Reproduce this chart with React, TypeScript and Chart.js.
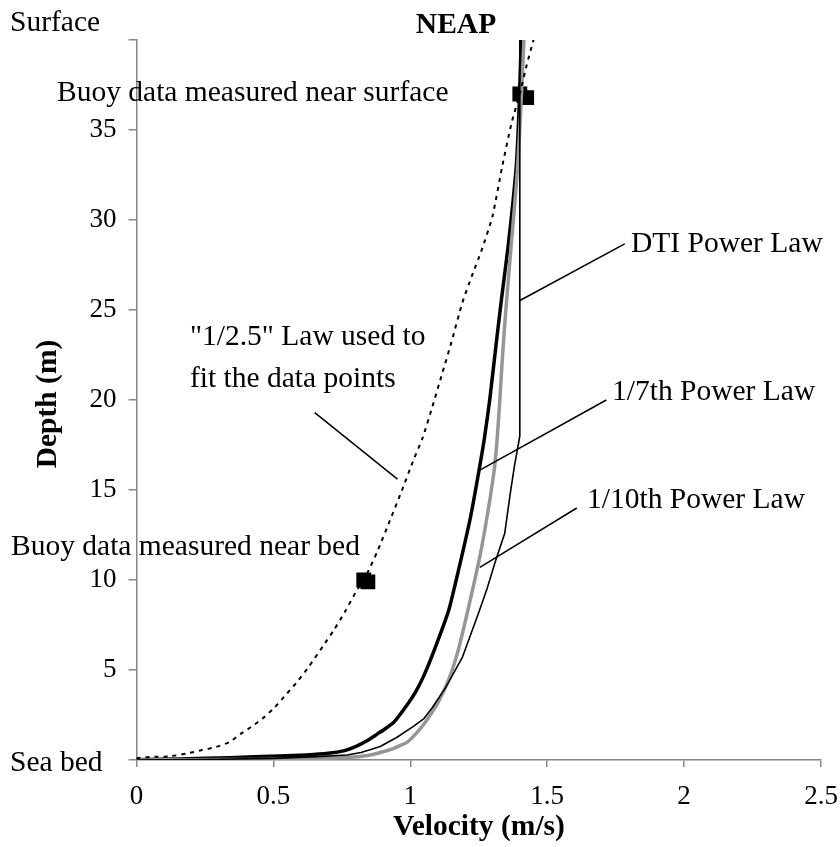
import React, { useEffect, useRef } from 'react';
import { Chart, registerables } from 'chart.js';

Chart.register(...registerables);

// ---- Data (velocity in m/s, depth above sea bed in m) ----
const X_MIN = 0;
const X_MAX = 2.5;
const X_STEP = 0.5;
const Y_MIN = 0;
const Y_MAX = 40;
const Y_STEP = 5;
const Y_HIDDEN_TICKS = [0, 40];

// "1/2.5" law fitted to buoy data (dotted)
const fitVel = [0, 0.05, 0.12, 0.18, 0.24, 0.29, 0.34, 0.38, 0.42, 0.46, 0.5, 0.55, 0.59, 0.63, 0.68, 0.72, 0.76, 0.8, 0.84, 0.88, 0.92, 0.97, 1.01, 1.045, 1.08, 1.117, 1.15, 1.19, 1.225, 1.26, 1.3, 1.336, 1.37, 1.4, 1.425, 1.45];
const fitDepth = [0.1, 0.17, 0.2, 0.35, 0.55, 0.72, 1.0, 1.45, 1.85, 2.3, 2.85, 3.7, 4.4, 5.2, 6.3, 7.2, 8.2, 9.3, 10.3, 11.6, 13.1, 15.0, 16.6, 17.9, 19.6, 21.5, 23.2, 25.4, 26.9, 28.3, 30.2, 33.0, 35.4, 37.0, 38.6, 40.0];

// 1/7th power law (thick black)
const seventhVel = [0, 0.16, 0.34, 0.52, 0.62, 0.7, 0.76, 0.8, 0.84, 0.88, 0.91, 0.94, 0.99, 1.02, 1.05, 1.09, 1.14, 1.18, 1.22, 1.25, 1.27, 1.29, 1.315, 1.333, 1.357, 1.375, 1.388, 1.398, 1.405];
const seventhDepth = [0.02, 0.06, 0.13, 0.22, 0.28, 0.37, 0.52, 0.74, 1.05, 1.45, 1.75, 2.1, 3.1, 3.8, 4.7, 6.2, 8.3, 10.8, 13.5, 16.0, 17.8, 20.0, 23.3, 25.6, 28.5, 31.0, 33.2, 36.5, 40];

// 1/10th power law (grey)
const tenthVel = [0, 0.2, 0.4, 0.6, 0.71, 0.78, 0.83, 0.87, 0.9, 0.94, 0.97, 0.99, 1.02, 1.05, 1.075, 1.1, 1.14, 1.175, 1.21, 1.25, 1.27, 1.29, 1.308, 1.318, 1.327, 1.337, 1.35, 1.368, 1.39, 1.403, 1.415];
const tenthDepth = [0, 0.02, 0.03, 0.06, 0.1, 0.15, 0.22, 0.33, 0.46, 0.65, 0.85, 1.0, 1.45, 2.0, 2.55, 3.15, 4.45, 6.1, 8.3, 11.0, 12.6, 14.4, 16.3, 18, 20, 22.5, 25.2, 28.5, 32.5, 36, 40];

// DTI power law (thin black)
const dtiVel = [0, 0.3, 0.5, 0.66, 0.77, 0.82, 0.85, 0.89, 0.95, 1.01, 1.05, 1.08, 1.13, 1.19, 1.25, 1.28, 1.31, 1.345, 1.365, 1.38, 1.4, 1.4];
const dtiDepth = [0, 0.04, 0.09, 0.19, 0.28, 0.42, 0.55, 0.75, 1.25, 1.85, 2.3, 2.9, 4.05, 5.7, 8.2, 9.5, 11.0, 12.6, 14.8, 16.3, 18.0, 40];

// Buoy measurements
const buoyVel = [0.83, 0.845, 1.4, 1.425];
const buoyDepth = [10.0, 9.9, 37.0, 36.8];

// Leader lines for the annotations: [v1, d1, v2, d2] in data units
const leaderDTI = [1.783, 28.67, 1.397, 25.5];
const leaderSeventh = [1.716, 20.0, 1.254, 16.1];
const leaderTenth = [1.608, 14.0, 1.254, 10.7];
const leaderFit = [0.651, 19.3, 0.953, 15.6];

// Text
const TITLE = 'NEAP';
const X_TITLE = 'Velocity (m/s)';
const Y_TITLE = 'Depth (m)';

const toPoints = (xs: number[], ys: number[]) => xs.map((x, i) => ({ x, y: ys[i] }));

const SERIF = '"Liberation Serif", "Times New Roman", serif';
const AXIS_COLOR = '#868686';

type Note = { text: string; x: number; y: number; bold?: boolean; align?: CanvasTextAlign };
const NOTES: Note[] = [
  { text: 'Surface', x: 10, y: 31 },
  { text: 'Sea bed', x: 10, y: 771 },
  { text: TITLE, x: 456, y: 33, bold: true, align: 'center' },
  { text: 'Buoy data measured near surface', x: 57, y: 101 },
  { text: 'Buoy data measured near bed', x: 11, y: 555 },
  { text: '"1/2.5" Law used to', x: 190, y: 345 },
  { text: 'fit the data points', x: 190, y: 387 },
  { text: 'DTI Power Law', x: 631, y: 252 },
  { text: '1/7th Power Law', x: 612, y: 400 },
  { text: '1/10th Power Law', x: 587, y: 508 },
  { text: X_TITLE, x: 479, y: 835, bold: true, align: 'center' },
];

const annotationPlugin = {
  id: 'annotations',
  afterDraw(chart: any) {
    const { ctx, scales } = chart;
    const xs = scales.x;
    const ys = scales.y;
    ctx.save();
    // leader lines
    ctx.strokeStyle = '#000';
    ctx.lineWidth = 1.5;
    for (const l of [leaderDTI, leaderSeventh, leaderTenth, leaderFit]) {
      ctx.beginPath();
      ctx.moveTo(xs.getPixelForValue(l[0]), ys.getPixelForValue(l[1]));
      ctx.lineTo(xs.getPixelForValue(l[2]), ys.getPixelForValue(l[3]));
      ctx.stroke();
    }
    // texts
    ctx.fillStyle = '#000';
    ctx.textBaseline = 'alphabetic';
    for (const n of NOTES) {
      ctx.font = `${n.bold ? 'bold ' : ''}29.5px ${SERIF}`;
      ctx.textAlign = n.align || 'left';
      ctx.fillText(n.text, n.x, n.y);
    }
    // y title
    ctx.translate(48, (chart.chartArea.top + chart.chartArea.bottom) / 2 + 4);
    ctx.rotate(-Math.PI / 2);
    ctx.font = `bold 29.5px ${SERIF}`;
    ctx.textAlign = 'center';
    ctx.textBaseline = 'middle';
    ctx.fillText(Y_TITLE, 0, 0);
    ctx.restore();
  },
};

export default function App() {
  const ref = useRef<HTMLCanvasElement | null>(null);

  useEffect(() => {
    document.body.style.margin = '0';
    const canvas = ref.current;
    if (!canvas) return;
    const line = (data: any[], color: string, width: number, dash: number[] = [], tension = 0) => ({
      type: 'scatter' as const,
      data,
      showLine: true,
      borderColor: color,
      backgroundColor: color,
      borderWidth: width,
      borderDash: dash,
      pointRadius: 0,
      pointHoverRadius: 0,
      tension,
      borderCapStyle: 'butt' as const,
      borderJoinStyle: 'round' as const,
    });
    const chart = new Chart(canvas, {
      type: 'scatter',
      data: {
        datasets: [
          line(toPoints(fitVel, fitDepth), '#000', 2, [4, 5], 0.2),
          line(toPoints(dtiVel, dtiDepth), '#000', 1.6),
          line(toPoints(tenthVel, tenthDepth), '#969696', 3.5, [], 0.2),
          line(toPoints(seventhVel, seventhDepth), '#000', 3.5, [], 0.2),
          {
            type: 'scatter',
            data: toPoints(buoyVel, buoyDepth),
            pointStyle: 'rect',
            pointRadius: 10.5,
            pointHoverRadius: 10.5,
            backgroundColor: '#000',
            borderColor: '#000',
            borderWidth: 0,
            showLine: false,
          },
        ] as any,
      },
      options: {
        responsive: false,
        animation: false,
        events: [],
        layout: { padding: { left: 0, right: 19, top: 40, bottom: 0 } },
        plugins: {
          legend: { display: false },
          tooltip: { enabled: false },
          title: { display: false },
        },
        scales: {
          x: {
            type: 'linear',
            min: X_MIN,
            max: X_MAX,
            ticks: {
              stepSize: X_STEP,
              autoSkip: false,
              maxRotation: 0,
              color: '#000',
              padding: 14,
              font: { family: SERIF, size: 27 },
              callback: (v: any) => String(v),
            },
            grid: { drawOnChartArea: false, drawTicks: true, tickLength: 7, color: AXIS_COLOR, lineWidth: 1.5 },
            border: { color: AXIS_COLOR, width: 1.5 },
            afterFit: (s: any) => {
              s.height = 87;
              s.paddingLeft = 0;
              s.paddingRight = 0;
            },
          },
          y: {
            type: 'linear',
            min: Y_MIN,
            max: Y_MAX,
            ticks: {
              stepSize: Y_STEP,
              autoSkip: false,
              color: '#000',
              padding: 12,
              font: { family: SERIF, size: 27 },
              callback: (v: any) => (Y_HIDDEN_TICKS.includes(Number(v)) ? '' : String(v)),
            },
            grid: { drawOnChartArea: false, drawTicks: true, tickLength: 8, color: AXIS_COLOR, lineWidth: 1.5 },
            border: { color: AXIS_COLOR, width: 1.5 },
            afterFit: (s: any) => {
              s.width = 136.5;
              s.paddingTop = 0;
              s.paddingBottom = 0;
            },
          },
        },
      } as any,
      plugins: [annotationPlugin],
    });
    return () => chart.destroy();
  }, []);

  return (
    <div style={{ width: 840, height: 847, position: 'relative', background: '#fff' }}>
      <canvas ref={ref} width={840} height={847} style={{ display: 'block', width: 840, height: 847 }} />
    </div>
  );
}
